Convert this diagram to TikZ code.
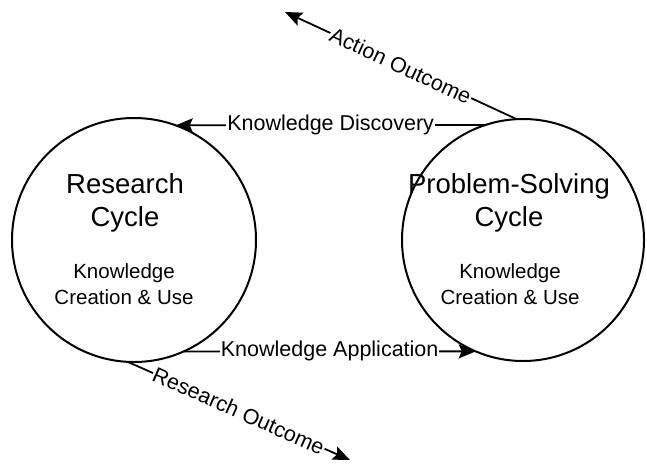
\documentclass[tikz,border=0pt]{standalone}
\usepackage{fontspec}
\setmainfont{Liberation Sans}
\usetikzlibrary{arrows.meta}
\tikzset{
  cyc/.style={circle, draw, line width=2pt, minimum size=#1, inner sep=0pt, outer sep=0pt},
  conn/.style={line width=1.8pt, -{Stealth[length=17pt,width=14pt,inset=3pt]}},
  lbl/.style={fill=white, inner sep=1pt, font=\fontsize{21.5}{25}\selectfont},
  ttl/.style={align=center, font=\fontsize{27.5}{33}\selectfont},
  bdy/.style={align=center, font=\fontsize{20.5}{26}\selectfont}
}
\begin{document}
\begin{tikzpicture}[x=1pt,y=-1pt]
\useasboundingbox (0,0) rectangle (647,466);
\node[cyc=244pt] (L) at (134,240) {};
\node[cyc=242pt] (R) at (523,240) {};
\node[ttl] (Lt) at (125,203) {Research\\Cycle};
\node[bdy] (Lb) at (124,284) {Knowledge\\Creation \& Use};
\node[ttl] (Rt) at (509,203) {Problem-Solving\\Cycle};
\node[bdy] (Rb) at (510,284) {Knowledge\\Creation \& Use};
\coordinate (AO) at (285,12);
\coordinate (RO) at (350,460);
\draw[conn] (R.108.3) -- node[lbl] {Knowledge Discovery} (L.70.4);
\draw[conn] (L.-66.8) -- node[lbl] {Knowledge Application} (R.247.7);
\draw[conn] (R.93) -- node[lbl, sloped] {Action Outcome} (AO);
\draw[conn] (L.267) -- node[lbl, sloped] {Research Outcome} (RO);
\end{tikzpicture}
\end{document}
